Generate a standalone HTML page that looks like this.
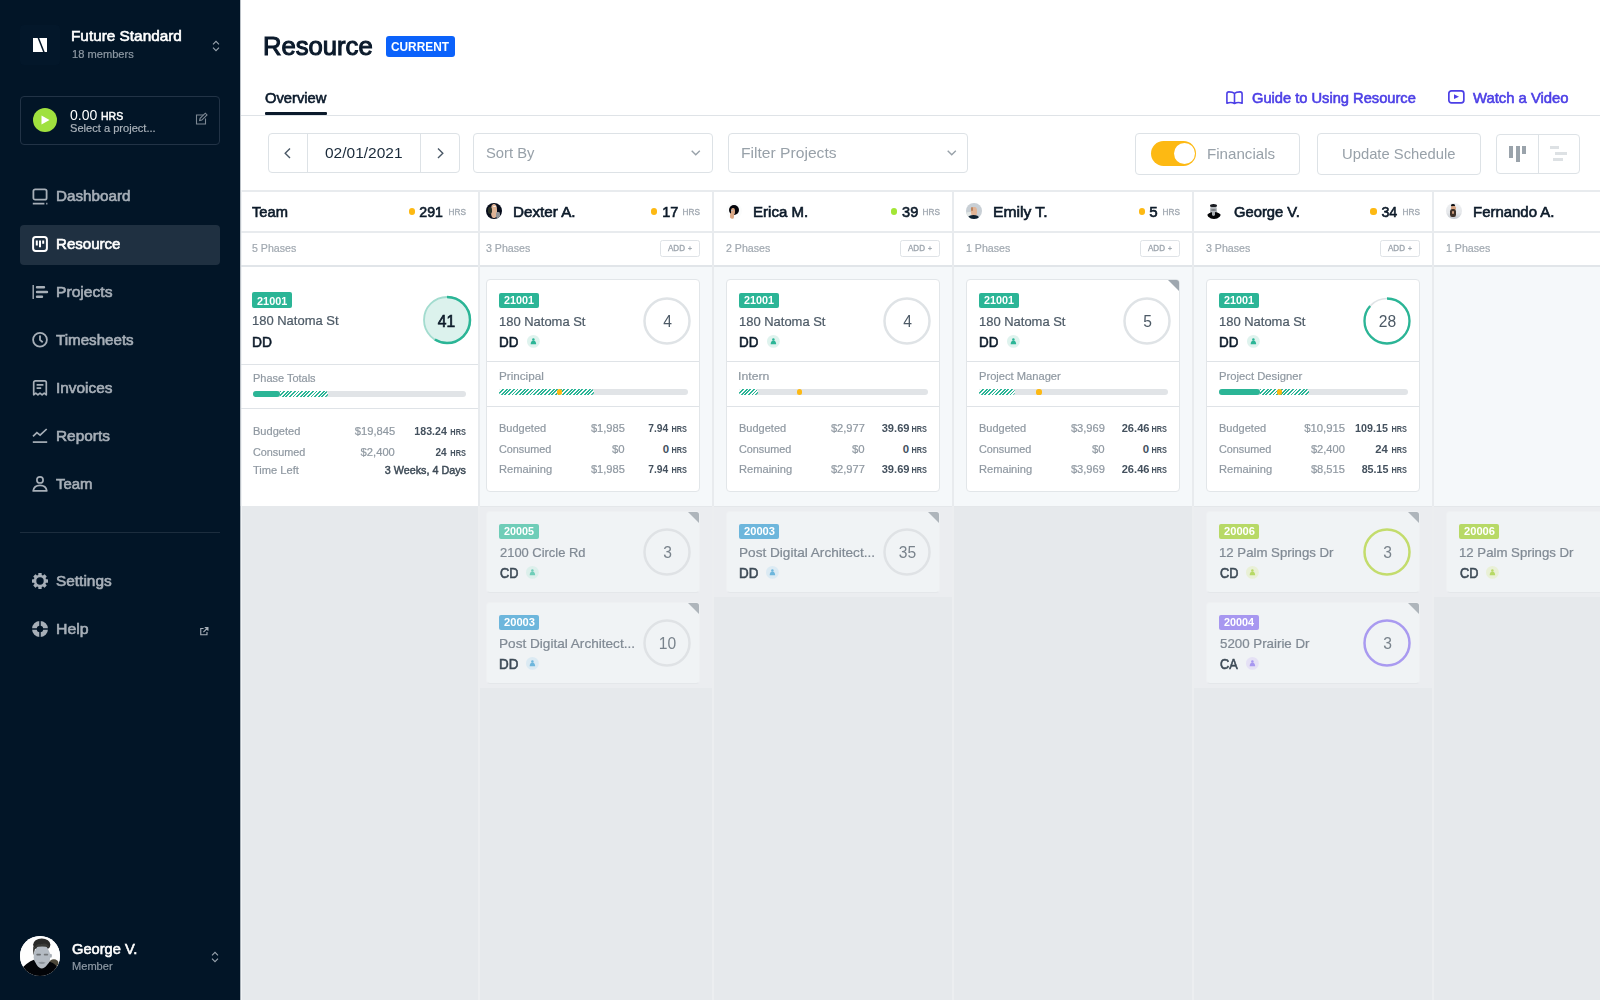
<!DOCTYPE html>
<html lang="en">
<head>
<meta charset="utf-8">
<title>Resource</title>
<style>
*{box-sizing:border-box;margin:0;padding:0}
html,body{width:1600px;height:1000px;overflow:hidden;background:#fff}
body{font-family:"Liberation Sans",sans-serif;position:relative;color:#0d1b2a}
.a{position:absolute}
svg.a{overflow:visible}
.t{position:absolute;white-space:nowrap;line-height:1;font-weight:400}
.t.b{font-weight:700}
#sb{position:absolute;left:0;top:0;width:240px;height:1000px;background:#021527;z-index:10;overflow:hidden}
#main{position:absolute;left:0;top:0;width:1600px;height:1000px;background:#fff;overflow:hidden}
.bx{position:absolute;border:1px solid #dde2e6;border-radius:4px;background:#fff}
.card{position:absolute;border:1px solid #e2e6e9;border-radius:4px;background:#fff}
.card.off{background:#f0f3f5;border-color:#eef0f2;border-bottom-color:#e4e7ea}
.tag{position:absolute;border-radius:2px}
.stripe{position:absolute;background-image:repeating-linear-gradient(135deg,#2bb596 0,#2bb596 1.35px,rgba(255,255,255,.9) 1.35px,rgba(255,255,255,.9) 2.55px)}

</style>
</head>
<body>
<div id="sb">
<div class="a" style="left:20px;top:25px;width:40px;height:40px;background:#03172a;border-radius:4px"></div>
<svg class="a" style="left:33px;top:38px" width="14" height="14" viewBox="0 0 14 14"><rect width="14" height="14" fill="#fff"/><path d="M5.200 -0.500L11.100 14.500" stroke="#021527" stroke-width="1.500"/></svg>
<div class="t m" style="left:71.28px;top:28.20px;font-size:15px;color:#fff;transform-origin:left center;transform:scaleX(1.0228);-webkit-text-stroke:0.61px;">Future Standard</div>
<div class="t" style="left:72.30px;top:49.00px;font-size:11.5px;color:#8e99a4;transform-origin:left center;transform:scaleX(0.9663);-webkit-text-stroke:0.21px;">18 members</div>
<svg class="a" style="left:211.5px;top:39.5px" width="8" height="12" viewBox="0 0 8 12"><path d="M1 4.300L4 1.300l3 3M1 7.700L4 10.700l3-3" fill="none" stroke="#9aa4ae" stroke-width="1.100"/></svg>
<div class="a" style="left:20px;top:96px;width:200px;height:49px;border:1px solid #223346;border-radius:4px"></div>
<div class="a" style="left:33px;top:108px;width:24px;height:24px;border-radius:50%;background:#a0e13e"></div>
<svg class="a" style="left:41px;top:115px" width="9" height="10" viewBox="0 0 9 10"><path d="M0.500 0.600v8.800L8.500 5z" fill="#fff"/></svg>
<div class="t" style="left:69.50px;top:107.00px;font-size:15px;color:#fff;transform-origin:left center;transform:scaleX(0.9358);">0.00</div>
<div class="t m" style="left:101.00px;top:111.00px;font-size:11.5px;color:#fff;transform-origin:left center;transform:scaleX(0.9143);-webkit-text-stroke:0.47px;">HRS</div>
<div class="t" style="left:69.50px;top:122.80px;font-size:11.5px;color:#aab2ba;transform-origin:left center;transform:scaleX(0.9644);-webkit-text-stroke:0.21px;">Select a project...</div>
<svg class="a" style="left:194px;top:112px" width="14" height="14" viewBox="0 0 14 14"><path d="M9.500 3H2.500v9h9V6.500" fill="none" stroke="#7d8893" stroke-width="1.100"/><path d="M5.600 8.600l.5-2.200L11.300 1.200l1.700 1.700-5.200 5.200z" fill="none" stroke="#7d8893" stroke-width="1.100"/></svg>
<div class="a" style="left:20px;top:225px;width:200px;height:39.5px;background:#1f3041;border-radius:4px"></div>
<svg class="a" style="left:32px;top:188.3px" width="16" height="16" viewBox="0 0 16 16"><rect x="1.400" y="1.300" width="13.200" height="10.400" rx="1.800" fill="none" stroke="#a7afb8" stroke-width="1.800"/><path d="M0.800 15.600h11.600M14.200 15.600h1.200" stroke="#a7afb8" stroke-width="1.700"/></svg>
<div class="t m" style="left:55.80px;top:188.06px;font-size:15.3px;color:#a7afb8;transform-origin:left center;transform:scaleX(0.9955);-webkit-text-stroke:0.63px;">Dashboard</div>
<svg class="a" style="left:32px;top:236.3px" width="16" height="16" viewBox="0 0 16 16"><rect x="1.100" y="1.100" width="13.800" height="13.800" rx="2.600" fill="none" stroke="#fff" stroke-width="2"/><path d="M4.800 4.400v5M8 4.400v6.800M11.200 4.400v3.400" stroke="#fff" stroke-width="2"/></svg>
<div class="t m" style="left:55.80px;top:236.06px;font-size:15.3px;color:#fff;transform-origin:left center;transform:scaleX(0.9850);-webkit-text-stroke:0.63px;">Resource</div>
<svg class="a" style="left:32px;top:284.3px" width="16" height="16" viewBox="0 0 16 16"><path d="M1.200 1v14" stroke="#a7afb8" stroke-width="1.400"/><path d="M5 3.200h7M5 8h10M5 12.800h5" stroke="#a7afb8" stroke-width="2.400" stroke-linecap="round"/></svg>
<div class="t m" style="left:55.80px;top:284.06px;font-size:15.3px;color:#a7afb8;transform-origin:left center;transform:scaleX(1.0218);-webkit-text-stroke:0.63px;">Projects</div>
<svg class="a" style="left:32px;top:332.3px" width="16" height="16" viewBox="0 0 16 16"><circle cx="8" cy="7.700" r="6.900" fill="none" stroke="#a7afb8" stroke-width="1.800"/><path d="M8 3.600v4.300l2.700 2.300" fill="none" stroke="#a7afb8" stroke-width="1.800"/></svg>
<div class="t m" style="left:55.80px;top:332.06px;font-size:15.3px;color:#a7afb8;transform-origin:left center;transform:scaleX(0.9893);-webkit-text-stroke:0.63px;">Timesheets</div>
<svg class="a" style="left:32px;top:380.3px" width="16" height="16" viewBox="0 0 16 16"><path d="M1.700 14.800V2.500c0-1 .7-1.700 1.700-1.700h9.200c1 0 1.700.7 1.700 1.700v12.300l-2.100-1.700-2.100 1.700L8 13.100l-2.100 1.700-2.100-1.700z" fill="none" stroke="#a7afb8" stroke-width="1.700" stroke-linejoin="round"/><path d="M4.600 4.900h6.800M4.600 8.100h4.600" stroke="#a7afb8" stroke-width="1.700"/></svg>
<div class="t m" style="left:55.80px;top:380.06px;font-size:15.3px;color:#a7afb8;transform-origin:left center;transform:scaleX(1.0060);-webkit-text-stroke:0.63px;">Invoices</div>
<svg class="a" style="left:32px;top:428.3px" width="16" height="16" viewBox="0 0 16 16"><path d="M1 8.400l3.900-3.700 3.200 2.500 6.600-6.200" fill="none" stroke="#a7afb8" stroke-width="1.700"/><path d="M0.800 14.100h14.400" stroke="#a7afb8" stroke-width="1.700"/></svg>
<div class="t m" style="left:55.80px;top:428.06px;font-size:15.3px;color:#a7afb8;transform-origin:left center;transform:scaleX(1.0054);-webkit-text-stroke:0.63px;">Reports</div>
<svg class="a" style="left:32px;top:476.3px" width="16" height="16" viewBox="0 0 16 16"><circle cx="8" cy="3.900" r="3.100" fill="none" stroke="#a7afb8" stroke-width="1.700"/><path d="M1.200 14.900c.5-3.700 3-5.500 6.800-5.500s6.300 1.800 6.800 5.500z" fill="none" stroke="#a7afb8" stroke-width="1.700" stroke-linejoin="round"/></svg>
<div class="t m" style="left:55.80px;top:476.06px;font-size:15.3px;color:#a7afb8;transform-origin:left center;transform:scaleX(0.9765);-webkit-text-stroke:0.63px;">Team</div>
<svg class="a" style="left:32px;top:573.3px" width="16" height="16" viewBox="0 0 16 16"><g fill="#a7afb8"><circle cx="8" cy="8" r="6.200"/><rect x="6.300" y="0" width="3.400" height="16" rx=".5"/><rect x="6.300" y="0" width="3.400" height="16" rx=".5" transform="rotate(45 8 8)"/><rect x="6.300" y="0" width="3.400" height="16" rx=".5" transform="rotate(90 8 8)"/><rect x="6.300" y="0" width="3.400" height="16" rx=".5" transform="rotate(135 8 8)"/></g><circle cx="8" cy="8" r="3.700" fill="#021527"/></svg>
<div class="t m" style="left:55.80px;top:573.06px;font-size:15.3px;color:#a7afb8;transform-origin:left center;transform:scaleX(1.0068);-webkit-text-stroke:0.63px;">Settings</div>
<svg class="a" style="left:32px;top:621.3px" width="16" height="16" viewBox="0 0 16 16"><circle cx="8" cy="8" r="5.600" fill="none" stroke="#a7afb8" stroke-width="4.800"/><path d="M8 0v16M0 8h16" stroke="#021527" stroke-width="1.500"/></svg>
<div class="t m" style="left:55.80px;top:621.06px;font-size:15.3px;color:#a7afb8;transform-origin:left center;transform:scaleX(1.0350);-webkit-text-stroke:0.63px;">Help</div>
<div class="a" style="left:20px;top:532px;width:200px;height:1px;background:#1c2d3e"></div>
<svg class="a" style="left:200px;top:626.500px" width="8.500" height="8.500" viewBox="0 0 9 9"><path d="M3.800 1.600H.8v6.600h6.600V5.200" fill="none" stroke="#a7afb8" stroke-width="1.200"/><path d="M3.600 5.400L8.200.8M5 .6h3.400V4" fill="none" stroke="#a7afb8" stroke-width="1.200"/></svg>
<div class="a" style="left:20px;top:935.500px;width:40.300px;height:40.300px;border-radius:50%;background:#fff;overflow:hidden"><svg class="a" style="left:0;top:0;filter:blur(.45px)" width="40.300" height="40.300" viewBox="0 0 40 40"><rect width="40" height="40" fill="#fefefe"/><ellipse cx="21.600" cy="8.600" rx="8.600" ry="6.200" fill="#2a2a29"/><path d="M13.200 10.500Q12.600 16 13.600 19L15 12z" fill="#2a2a29"/><ellipse cx="21.800" cy="21" rx="8.200" ry="12.300" fill="#b4bbc3"/><path d="M14.500 11.500Q17 6.500 21 8.500Q26 5.500 29.500 11.500Q22 9.500 14.500 11.500z" fill="#3a3a37"/><ellipse cx="30.600" cy="19.500" rx="1.100" ry="2" fill="#a7adb4"/><rect x="16.200" y="17.600" width="4.600" height="1.700" rx=".8" fill="#6b6f72"/><rect x="23.600" y="17.600" width="4.400" height="1.700" rx=".8" fill="#74787c"/><path d="M18 26.500Q21.500 24.800 25.500 26.500Q22 29 18 26.500z" fill="#8b929a"/><ellipse cx="33.600" cy="27" rx="4.700" ry="3.900" fill="#4c4739"/><path d="M0 34Q7 26 13.800 23.500L16.500 28.500Q21.500 36 27 28.500L29.500 25.500Q36 27.500 40 35V40H0z" fill="#020408"/></svg></div>
<div class="t m" style="left:72.40px;top:940.70px;font-size:15px;color:#fff;transform-origin:left center;transform:scaleX(0.9768);-webkit-text-stroke:0.61px;">George V.</div>
<div class="t" style="left:72.40px;top:961.00px;font-size:11.5px;color:#8e99a4;transform-origin:left center;transform:scaleX(0.9635);-webkit-text-stroke:0.21px;">Member</div>
<svg class="a" style="left:211px;top:950.5px" width="8" height="12" viewBox="0 0 8 12"><path d="M1 4.300L4 1.300l3 3M1 7.700L4 10.700l3-3" fill="none" stroke="#9aa4ae" stroke-width="1.100"/></svg>
</div>
<div id="main">
<div class="t m" style="left:263.47px;top:33.40px;font-size:26.5px;color:#0b1a2b;transform-origin:left center;transform:scaleX(0.9668);-webkit-text-stroke:1.09px;">Resource</div>
<div class="a" style="left:386px;top:36px;width:69px;height:21px;background:#0b62fb;border-radius:3px"></div>
<div class="t b" style="left:391.00px;top:40.40px;font-size:13px;color:#fff;transform-origin:left center;transform:scaleX(0.9118);">CURRENT</div>
<div class="t m" style="left:264.90px;top:91.20px;font-size:14.5px;color:#0b1a2b;transform-origin:left center;transform:scaleX(1.0171);-webkit-text-stroke:0.59px;">Overview</div>
<div class="a" style="left:265px;top:112px;width:62px;height:3px;background:#0b1a2b;border-radius:1px"></div>
<div class="a" style="left:241px;top:115px;width:1359px;height:1px;background:#dfe3e7"></div>
<svg class="a" style="left:1226.200px;top:90.600px" width="17" height="13.400" viewBox="0 0 17 13.400"><path d="M8.500 2.300C7 1 4.600.9 2.900.9Q.9.900.9 2.900V12.200C3.500 11.200 6.500 11.300 8.500 12.500C10.500 11.300 13.500 11.200 16.100 12.200V2.900Q16.100.9 14.100.9C12.400.9 10 1 8.500 2.300ZM8.500 2.300V12.500" fill="none" stroke="#4c3fe6" stroke-width="1.600" stroke-linejoin="round"/></svg>
<div class="t m" style="left:1252.20px;top:91.20px;font-size:14.5px;color:#4c3fe6;transform-origin:left center;transform:scaleX(1.0115);-webkit-text-stroke:0.59px;">Guide to Using Resource</div>
<svg class="a" style="left:1448.100px;top:90px" width="16.700" height="13.700" viewBox="0 0 16.700 13.700"><rect x=".85" y=".85" width="15" height="12" rx="2.600" fill="none" stroke="#4c3fe6" stroke-width="1.700"/><path d="M6 4.300v4.800l5-2.400z" fill="#4c3fe6"/></svg>
<div class="t m" style="left:1473.00px;top:91.20px;font-size:14.5px;color:#4c3fe6;transform-origin:left center;transform:scaleX(1.0221);-webkit-text-stroke:0.59px;">Watch a Video</div>
<div class="bx" style="left:268px;top:132.500px;width:192px;height:40px"></div>
<div class="a" style="left:307px;top:133px;width:1px;height:39px;background:#dde2e6"></div>
<div class="a" style="left:420px;top:133px;width:1px;height:39px;background:#dde2e6"></div>
<svg class="a" style="left:284px;top:147.500px" width="7" height="10.500" viewBox="0 0 7 10.500"><path d="M6 .6L1.200 5.250 6 9.900" fill="none" stroke="#4a5866" stroke-width="1.400"/></svg>
<svg class="a" style="left:436.500px;top:147.500px" width="7" height="10.500" viewBox="0 0 7 10.500"><path d="M1 .6L5.800 5.250 1 9.900" fill="none" stroke="#4a5866" stroke-width="1.400"/></svg>
<div class="t" style="left:324.50px;top:144.70px;font-size:15px;color:#1a2a3a;transform-origin:left center;transform:scaleX(1.0330);">02/01/2021</div>
<div class="bx" style="left:472.500px;top:132.500px;width:240px;height:40px"></div>
<div class="t" style="left:485.50px;top:145.30px;font-size:15px;color:#98a1a9;transform-origin:left center;transform:scaleX(0.9863);">Sort By</div>
<svg class="a" style="left:690.5px;top:149.500px" width="9.500" height="6" viewBox="0 0 9.500 6"><path d="M.7.800l4.050 4 4.050-4" fill="none" stroke="#98a1a9" stroke-width="1.400"/></svg>
<div class="bx" style="left:728px;top:132.500px;width:240px;height:40px"></div>
<div class="t" style="left:740.56px;top:145.30px;font-size:15px;color:#98a1a9;transform-origin:left center;transform:scaleX(1.0423);">Filter Projects</div>
<svg class="a" style="left:946.5px;top:149.500px" width="9.500" height="6" viewBox="0 0 9.500 6"><path d="M.7.800l4.050 4 4.050-4" fill="none" stroke="#98a1a9" stroke-width="1.400"/></svg>
<div class="bx" style="left:1135px;top:132.500px;width:165px;height:42px"></div>
<div class="a" style="left:1151px;top:141px;width:45px;height:25px;background:#fdb913;border-radius:13px"></div>
<div class="a" style="left:1173.5px;top:143px;width:21px;height:21px;background:#fff;border-radius:50%"></div>
<div class="t" style="left:1207.39px;top:146.00px;font-size:15px;color:#98a1a9;transform-origin:left center;transform:scaleX(1.0086);">Financials</div>
<div class="bx" style="left:1317px;top:132.500px;width:163.500px;height:42px"></div>
<div class="t" style="left:1341.51px;top:146.00px;font-size:15px;color:#98a1a9;transform-origin:left center;transform:scaleX(0.9864);">Update Schedule</div>
<div class="bx" style="left:1496px;top:133.500px;width:83.500px;height:40px"></div>
<div class="a" style="left:1537.5px;top:134px;width:1px;height:39px;background:#dde2e6"></div>
<div class="a" style="left:1509px;top:146px;width:4.2px;height:11.5px;background:#9aa3ab"></div>
<div class="a" style="left:1515.5px;top:146px;width:4.2px;height:15.5px;background:#9aa3ab"></div>
<div class="a" style="left:1522px;top:146px;width:4.2px;height:7.5px;background:#9aa3ab"></div>
<div class="a" style="left:1550px;top:146px;width:9px;height:3.3px;background:#dde1e4"></div>
<div class="a" style="left:1554.5px;top:152px;width:12.5px;height:3.3px;background:#dde1e4"></div>
<div class="a" style="left:1552.5px;top:158px;width:10.5px;height:3.3px;background:#dde1e4"></div>
<div class="a" style="left:241px;top:190px;width:1359px;height:2px;background:#e8ebee"></div>
<div class="a" style="left:480px;top:266px;width:1120px;height:240px;background:#f5f8fa"></div>
<div class="a" style="left:241px;top:506px;width:1359px;height:494px;background:#e6e9ec"></div>
<div class="a" style="left:474px;top:506px;width:238px;height:182px;background:#ebedf0"></div>
<div class="a" style="left:714px;top:506px;width:238px;height:91px;background:#ebedf0"></div>
<div class="a" style="left:1194px;top:506px;width:238px;height:182px;background:#ebedf0"></div>
<div class="a" style="left:1434px;top:506px;width:238px;height:91px;background:#ebedf0"></div>
<div class="a" style="left:241px;top:231px;width:1359px;height:2px;background:#e8ebee"></div>
<div class="a" style="left:241px;top:265.4px;width:1359px;height:1.6px;background:#e1e5e9"></div>
<div class="a" style="left:480px;top:505.5px;width:1120px;height:1px;background:#e4e7ea"></div>
<div class="a" style="left:485.8px;top:203.4px;width:15.800px;height:15.800px;border-radius:50%;overflow:hidden;filter:blur(.3px)"><div class="a" style="left:0px;top:0px;width:16px;height:16px;border-radius:0;background:#070d1c"></div><div class="a" style="left:4.8px;top:0.6px;width:6.6px;height:13.6px;border-radius:40%;background:#dfb496"></div><div class="a" style="left:2.5px;top:3.5px;width:3.5px;height:7px;border-radius:40%;background:#2c3328"></div><div class="a" style="left:10.2px;top:8.6px;width:4.4px;height:6px;border-radius:30%;background:#8f9296"></div><div class="a" style="left:7.5px;top:2.2px;width:3px;height:1.6px;border-radius:40%;background:#f1eee9"></div></div>
<div class="t m" style="left:512.92px;top:204.00px;font-size:15.5px;color:#0d1b2a;transform-origin:left center;transform:scaleX(0.9808);-webkit-text-stroke:0.64px;">Dexter A.</div>
<div class="t" style="left:485.70px;top:243.20px;font-size:11.2px;color:#a0a8b0;transform-origin:left center;transform:scaleX(0.9500);-webkit-text-stroke:0.20px;">3 Phases</div>
<div class="a" style="left:712px;top:192px;width:2px;height:314px;background:#e8ebee"></div>
<div class="a" style="left:712px;top:506px;width:2px;height:494px;background:#eceef0"></div>
<div class="t m" style="left:681.00px;top:207.70px;font-size:9px;color:#a0a8b0;transform-origin:right center;transform:scaleX(0.9158);-webkit-text-stroke:0.37px;">HRS</div>
<div class="t m" style="left:660.74px;top:204.00px;font-size:15.5px;color:#0d1b2a;transform-origin:right center;transform:scaleX(0.9347);-webkit-text-stroke:0.64px;">17</div>
<div class="a" style="left:650.9999999999999px;top:207.8px;width:6.2px;height:7.2px;background:#fdb913;border-radius:3px"></div>
<div class="a" style="left:660.4px;top:240.200px;width:39.500px;height:16.400px;border:1px solid #dfe3e7;border-radius:2.500px"></div>
<div class="t m" style="left:667.60px;top:244.20px;font-size:9px;color:#a0a8b0;transform-origin:left center;transform:scaleX(0.8922);-webkit-text-stroke:0.37px;">ADD</div>
<div class="t m" style="left:688.40px;top:245.00px;font-size:8px;color:#a0a8b0;transform-origin:left center;transform:scaleX(0.8400);-webkit-text-stroke:0.33px;">+</div>
<div class="a" style="left:725.8px;top:203.4px;width:15.800px;height:15.800px;border-radius:50%;overflow:hidden;filter:blur(.3px)"><div class="a" style="left:0px;top:0px;width:16px;height:16px;border-radius:0;background:#fbfcfc"></div><div class="a" style="left:3.1px;top:1.4px;width:10.4px;height:10.4px;border-radius:50%;background:#05060c"></div><div class="a" style="left:5.2px;top:4.6px;width:3.9px;height:7px;border-radius:45%;background:#d8a583"></div><div class="a" style="left:4.6px;top:9.5px;width:3.2px;height:6px;border-radius:40%;background:#dca986"></div><div class="a" style="left:5.2px;top:6.4px;width:2px;height:1.2px;border-radius:40%;background:#b9c0c6"></div></div>
<div class="t m" style="left:752.93px;top:204.00px;font-size:15.5px;color:#0d1b2a;transform-origin:left center;transform:scaleX(0.9701);-webkit-text-stroke:0.64px;">Erica M.</div>
<div class="t" style="left:725.70px;top:243.20px;font-size:11.2px;color:#a0a8b0;transform-origin:left center;transform:scaleX(0.9500);-webkit-text-stroke:0.20px;">2 Phases</div>
<div class="a" style="left:952px;top:192px;width:2px;height:314px;background:#e8ebee"></div>
<div class="a" style="left:952px;top:506px;width:2px;height:494px;background:#eceef0"></div>
<div class="t m" style="left:921.00px;top:207.70px;font-size:9px;color:#a0a8b0;transform-origin:right center;transform:scaleX(0.9158);-webkit-text-stroke:0.37px;">HRS</div>
<div class="t m" style="left:900.74px;top:204.00px;font-size:15.5px;color:#0d1b2a;transform-origin:right center;transform:scaleX(0.9386);-webkit-text-stroke:0.64px;">39</div>
<div class="a" style="left:890.9999999999999px;top:207.8px;width:6.2px;height:7.2px;background:#a3e635;border-radius:3px"></div>
<div class="a" style="left:900.4px;top:240.200px;width:39.500px;height:16.400px;border:1px solid #dfe3e7;border-radius:2.500px"></div>
<div class="t m" style="left:907.60px;top:244.20px;font-size:9px;color:#a0a8b0;transform-origin:left center;transform:scaleX(0.8922);-webkit-text-stroke:0.37px;">ADD</div>
<div class="t m" style="left:928.40px;top:245.00px;font-size:8px;color:#a0a8b0;transform-origin:left center;transform:scaleX(0.8400);-webkit-text-stroke:0.33px;">+</div>
<div class="a" style="left:965.8px;top:203.4px;width:15.800px;height:15.800px;border-radius:50%;overflow:hidden;filter:blur(.3px)"><div class="a" style="left:0px;top:0px;width:16px;height:16px;border-radius:0;background:#c8cfd5"></div><div class="a" style="left:0px;top:9px;width:7px;height:4px;border-radius:40%;background:#e3e8e6"></div><div class="a" style="left:5.3px;top:3.4px;width:5.6px;height:9.6px;border-radius:42%;background:#e1b496"></div><div class="a" style="left:5.2px;top:3.6px;width:2px;height:4px;border-radius:40%;background:#b9835f"></div><div class="a" style="left:2.2px;top:11.4px;width:11.4px;height:6px;border-radius:50% 50% 30% 30%;background:#0e2132"></div></div>
<div class="t m" style="left:992.89px;top:204.00px;font-size:15.5px;color:#0d1b2a;transform-origin:left center;transform:scaleX(1.0107);-webkit-text-stroke:0.64px;">Emily T.</div>
<div class="t" style="left:965.70px;top:243.20px;font-size:11.2px;color:#a0a8b0;transform-origin:left center;transform:scaleX(0.9500);-webkit-text-stroke:0.20px;">1 Phases</div>
<div class="a" style="left:1192px;top:192px;width:2px;height:314px;background:#e8ebee"></div>
<div class="a" style="left:1192px;top:506px;width:2px;height:494px;background:#eceef0"></div>
<div class="t m" style="left:1161.00px;top:207.70px;font-size:9px;color:#a0a8b0;transform-origin:right center;transform:scaleX(0.9158);-webkit-text-stroke:0.37px;">HRS</div>
<div class="t m" style="left:1149.38px;top:204.00px;font-size:15.5px;color:#0d1b2a;transform-origin:right center;transform:scaleX(0.9750);-webkit-text-stroke:0.64px;">5</div>
<div class="a" style="left:1138.8px;top:207.8px;width:6.2px;height:7.2px;background:#fdb913;border-radius:3px"></div>
<div class="a" style="left:1140.4px;top:240.200px;width:39.500px;height:16.400px;border:1px solid #dfe3e7;border-radius:2.500px"></div>
<div class="t m" style="left:1147.60px;top:244.20px;font-size:9px;color:#a0a8b0;transform-origin:left center;transform:scaleX(0.8922);-webkit-text-stroke:0.37px;">ADD</div>
<div class="t m" style="left:1168.40px;top:245.00px;font-size:8px;color:#a0a8b0;transform-origin:left center;transform:scaleX(0.8400);-webkit-text-stroke:0.33px;">+</div>
<div class="a" style="left:1205.8px;top:203.4px;width:15.800px;height:15.800px;border-radius:50%;overflow:hidden;filter:blur(.3px)"><div class="a" style="left:0px;top:0px;width:16px;height:16px;border-radius:0;background:#fff"></div><div class="a" style="left:4.4px;top:1.2px;width:7px;height:11.6px;border-radius:45%;background:#b3b7bb"></div><div class="a" style="left:4.7px;top:0.6px;width:6.6px;height:3.4px;border-radius:50% 50% 30% 30%;background:#1a1c22"></div><div class="a" style="left:5.3px;top:6px;width:5.2px;height:1.2px;border-radius:40%;background:#7d8186"></div><div class="a" style="left:0.9px;top:9px;width:14.4px;height:8.5px;border-radius:50% 50% 45% 45%;background:#040507"></div><div class="a" style="left:6.4px;top:8.6px;width:3.2px;height:3.6px;border-radius:0 0 50% 50%;background:#a9adb1"></div></div>
<div class="t m" style="left:1233.90px;top:204.00px;font-size:15.5px;color:#0d1b2a;transform-origin:left center;transform:scaleX(0.9526);-webkit-text-stroke:0.64px;">George V.</div>
<div class="t" style="left:1205.70px;top:243.20px;font-size:11.2px;color:#a0a8b0;transform-origin:left center;transform:scaleX(0.9500);-webkit-text-stroke:0.20px;">3 Phases</div>
<div class="a" style="left:1432px;top:192px;width:2px;height:314px;background:#e8ebee"></div>
<div class="a" style="left:1432px;top:506px;width:2px;height:494px;background:#eceef0"></div>
<div class="t m" style="left:1401.00px;top:207.70px;font-size:9px;color:#a0a8b0;transform-origin:right center;transform:scaleX(0.9158);-webkit-text-stroke:0.37px;">HRS</div>
<div class="t m" style="left:1379.81px;top:204.00px;font-size:15.5px;color:#0d1b2a;transform-origin:right center;transform:scaleX(0.9194);-webkit-text-stroke:0.64px;">34</div>
<div class="a" style="left:1370.3999999999999px;top:207.8px;width:6.2px;height:7.2px;background:#fdb913;border-radius:3px"></div>
<div class="a" style="left:1380.4px;top:240.200px;width:39.500px;height:16.400px;border:1px solid #dfe3e7;border-radius:2.500px"></div>
<div class="t m" style="left:1387.60px;top:244.20px;font-size:9px;color:#a0a8b0;transform-origin:left center;transform:scaleX(0.8922);-webkit-text-stroke:0.37px;">ADD</div>
<div class="t m" style="left:1408.40px;top:245.00px;font-size:8px;color:#a0a8b0;transform-origin:left center;transform:scaleX(0.8400);-webkit-text-stroke:0.33px;">+</div>
<div class="a" style="left:1445.8px;top:203.4px;width:15.800px;height:15.800px;border-radius:50%;overflow:hidden;filter:blur(.3px)"><div class="a" style="inset:0;background:linear-gradient(#eef0f2,#e6e8eb 60%,#c4c9cf)"></div><div class="a" style="left:5.3px;top:0.8px;width:4.2px;height:3px;border-radius:50%;background:#0b0d12"></div><div class="a" style="left:5.2px;top:2.8px;width:4.6px;height:3.8px;border-radius:40%;background:#d8a482"></div><div class="a" style="left:4.6px;top:5.8px;width:5.6px;height:7.4px;border-radius:35%;background:#3f3128"></div><div class="a" style="left:6.6px;top:7.4px;width:2px;height:3px;border-radius:40%;background:#c99b7c"></div></div>
<div class="t m" style="left:1472.94px;top:204.00px;font-size:15.5px;color:#0d1b2a;transform-origin:left center;transform:scaleX(0.9639);-webkit-text-stroke:0.64px;">Fernando A.</div>
<div class="t" style="left:1445.70px;top:243.20px;font-size:11.2px;color:#a0a8b0;transform-origin:left center;transform:scaleX(0.9500);-webkit-text-stroke:0.20px;">1 Phases</div>
<div class="a" style="left:1672px;top:192px;width:2px;height:314px;background:#e8ebee"></div>
<div class="a" style="left:1672px;top:506px;width:2px;height:494px;background:#eceef0"></div>
<div class="card" style="left:486px;top:279px;width:213.500px;height:213px"></div>
<div class="a" style="left:487px;top:361px;width:212px;height:1px;background:#dfe3e7"></div>
<div class="a" style="left:487px;top:406px;width:212px;height:1px;background:#dfe3e7"></div>
<div class="tag" style="left:499px;top:292.5px;width:40px;height:15.500px;background:#2bb596"></div>
<div class="t b" style="left:503.70px;top:295.20px;font-size:11.5px;color:#fff;transform-origin:left center;transform:scaleX(0.9391);">21001</div>
<div class="t" style="left:499.04px;top:314.80px;font-size:13.5px;color:#4d5a66;transform-origin:left center;transform:scaleX(0.9597);-webkit-text-stroke:0.24px;">180 Natoma St</div>
<div class="t m" style="left:498.88px;top:334.80px;font-size:14.5px;color:#0d1b2a;transform-origin:left center;transform:scaleX(0.9244);-webkit-text-stroke:0.59px;">DD</div>
<svg class="a" style="left:526.65px;top:334.6px" width="12.800" height="12.800" viewBox="-6.400 -6.400 12.800 12.800"><circle cx="0" cy="0" r="6.400" fill="#dff3ee"/><circle cx="0" cy="-2" r="1.250" fill="#2bb596"/><path d="M-2.750 2.900c0-2.600 1.100-3.900 2.750-3.900s2.750 1.300 2.750 3.900z" fill="#2bb596"/></svg>
<svg class="a" style="left:641.4px;top:294.8px" width="52" height="52" viewBox="0 0 52 52"><circle cx="26" cy="26" r="22.5" fill="none" stroke="#dfe3e6" stroke-width="2.5"/></svg>
<div class="t" style="left:662.90px;top:312.70px;font-size:17px;color:#4d5a66;transform-origin:4.50px center;transform:scaleX(0.9200);">4</div>
<div class="t" style="left:499.20px;top:371.10px;font-size:11.2px;color:#8f98a1;transform-origin:left center;transform:scaleX(1.0444);-webkit-text-stroke:0.20px;">Principal</div>
<div class="a" style="left:499.2px;top:389px;width:188.8px;height:5.7px;background:#e1e4e7;border-radius:3px"></div>
<div class="stripe" style="left:499.2px;top:389px;width:94.4px;height:5.7px;border-radius:3px 3px 3px 3px"></div>
<div class="a" style="left:556.6px;top:388.75px;width:5.2px;height:6.2px;background:#fdb913;border-radius:2.600px"></div>
<div class="t" style="left:499.20px;top:423.40px;font-size:11.4px;color:#8f98a1;transform-origin:left center;transform:scaleX(0.9662);-webkit-text-stroke:0.21px;">Budgeted</div>
<div class="t" style="left:589.89px;top:423.40px;font-size:11.4px;color:#8f98a1;transform-origin:right center;transform:scaleX(0.9738);-webkit-text-stroke:0.21px;">$1,985</div>
<div class="t b" style="left:668.97px;top:425.40px;font-size:8.5px;color:#44515e;transform-origin:right center;transform:scaleX(0.8645);">HRS</div>
<div class="t b" style="left:646.03px;top:423.40px;font-size:11.4px;color:#44515e;transform-origin:right center;transform:scaleX(0.8978);">7.94</div>
<div class="t" style="left:499.20px;top:444.30px;font-size:11.4px;color:#8f98a1;transform-origin:left center;transform:scaleX(0.9498);-webkit-text-stroke:0.21px;">Consumed</div>
<div class="t" style="left:612.06px;top:444.30px;font-size:11.4px;color:#8f98a1;transform-origin:right center;transform:scaleX(0.9972);-webkit-text-stroke:0.21px;">$0</div>
<div class="t b" style="left:668.97px;top:446.30px;font-size:8.5px;color:#44515e;transform-origin:right center;transform:scaleX(0.8645);">HRS</div>
<div class="t b" style="left:662.80px;top:444.30px;font-size:11.4px;color:#44515e;transform-origin:right center;transform:scaleX(1.0000);">0</div>
<div class="t" style="left:499.20px;top:464.40px;font-size:11.4px;color:#8f98a1;transform-origin:left center;transform:scaleX(0.9757);-webkit-text-stroke:0.21px;">Remaining</div>
<div class="t" style="left:589.89px;top:464.40px;font-size:11.4px;color:#8f98a1;transform-origin:right center;transform:scaleX(0.9738);-webkit-text-stroke:0.21px;">$1,985</div>
<div class="t b" style="left:668.97px;top:466.40px;font-size:8.5px;color:#44515e;transform-origin:right center;transform:scaleX(0.8645);">HRS</div>
<div class="t b" style="left:646.03px;top:464.40px;font-size:11.4px;color:#44515e;transform-origin:right center;transform:scaleX(0.8978);">7.94</div>
<div class="card" style="left:726px;top:279px;width:213.500px;height:213px"></div>
<div class="a" style="left:727px;top:361px;width:212px;height:1px;background:#dfe3e7"></div>
<div class="a" style="left:727px;top:406px;width:212px;height:1px;background:#dfe3e7"></div>
<div class="tag" style="left:739px;top:292.5px;width:40px;height:15.500px;background:#2bb596"></div>
<div class="t b" style="left:743.70px;top:295.20px;font-size:11.5px;color:#fff;transform-origin:left center;transform:scaleX(0.9391);">21001</div>
<div class="t" style="left:739.04px;top:314.80px;font-size:13.5px;color:#4d5a66;transform-origin:left center;transform:scaleX(0.9597);-webkit-text-stroke:0.24px;">180 Natoma St</div>
<div class="t m" style="left:738.88px;top:334.80px;font-size:14.5px;color:#0d1b2a;transform-origin:left center;transform:scaleX(0.9244);-webkit-text-stroke:0.59px;">DD</div>
<svg class="a" style="left:766.65px;top:334.6px" width="12.800" height="12.800" viewBox="-6.400 -6.400 12.800 12.800"><circle cx="0" cy="0" r="6.400" fill="#dff3ee"/><circle cx="0" cy="-2" r="1.250" fill="#2bb596"/><path d="M-2.750 2.900c0-2.600 1.100-3.900 2.750-3.900s2.750 1.300 2.750 3.900z" fill="#2bb596"/></svg>
<svg class="a" style="left:881.4px;top:294.8px" width="52" height="52" viewBox="0 0 52 52"><circle cx="26" cy="26" r="22.5" fill="none" stroke="#dfe3e6" stroke-width="2.5"/></svg>
<div class="t" style="left:902.90px;top:312.70px;font-size:17px;color:#4d5a66;transform-origin:4.50px center;transform:scaleX(0.9200);">4</div>
<div class="t" style="left:738.10px;top:371.10px;font-size:11.2px;color:#8f98a1;transform-origin:left center;transform:scaleX(1.0955);-webkit-text-stroke:0.20px;">Intern</div>
<div class="a" style="left:739.2px;top:389px;width:188.8px;height:5.7px;background:#e1e4e7;border-radius:3px"></div>
<div class="stripe" style="left:739.2px;top:389px;width:19px;height:5.7px;border-radius:3px 3px 3px 3px"></div>
<div class="a" style="left:796.5px;top:388.75px;width:5.2px;height:6.2px;background:#fdb913;border-radius:2.600px"></div>
<div class="t" style="left:739.20px;top:423.40px;font-size:11.4px;color:#8f98a1;transform-origin:left center;transform:scaleX(0.9662);-webkit-text-stroke:0.21px;">Budgeted</div>
<div class="t" style="left:829.89px;top:423.40px;font-size:11.4px;color:#8f98a1;transform-origin:right center;transform:scaleX(0.9738);-webkit-text-stroke:0.21px;">$2,977</div>
<div class="t b" style="left:908.97px;top:425.40px;font-size:8.5px;color:#44515e;transform-origin:right center;transform:scaleX(0.8645);">HRS</div>
<div class="t b" style="left:880.62px;top:423.40px;font-size:11.4px;color:#44515e;transform-origin:right center;transform:scaleX(0.9762);">39.69</div>
<div class="t" style="left:739.20px;top:444.30px;font-size:11.4px;color:#8f98a1;transform-origin:left center;transform:scaleX(0.9498);-webkit-text-stroke:0.21px;">Consumed</div>
<div class="t" style="left:852.06px;top:444.30px;font-size:11.4px;color:#8f98a1;transform-origin:right center;transform:scaleX(0.9972);-webkit-text-stroke:0.21px;">$0</div>
<div class="t b" style="left:908.97px;top:446.30px;font-size:8.5px;color:#44515e;transform-origin:right center;transform:scaleX(0.8645);">HRS</div>
<div class="t b" style="left:902.80px;top:444.30px;font-size:11.4px;color:#44515e;transform-origin:right center;transform:scaleX(1.0000);">0</div>
<div class="t" style="left:739.20px;top:464.40px;font-size:11.4px;color:#8f98a1;transform-origin:left center;transform:scaleX(0.9757);-webkit-text-stroke:0.21px;">Remaining</div>
<div class="t" style="left:829.89px;top:464.40px;font-size:11.4px;color:#8f98a1;transform-origin:right center;transform:scaleX(0.9738);-webkit-text-stroke:0.21px;">$2,977</div>
<div class="t b" style="left:908.97px;top:466.40px;font-size:8.5px;color:#44515e;transform-origin:right center;transform:scaleX(0.8645);">HRS</div>
<div class="t b" style="left:880.62px;top:464.40px;font-size:11.4px;color:#44515e;transform-origin:right center;transform:scaleX(0.9762);">39.69</div>
<div class="card" style="left:966px;top:279px;width:213.500px;height:213px"></div>
<div class="a" style="left:967px;top:361px;width:212px;height:1px;background:#dfe3e7"></div>
<div class="a" style="left:967px;top:406px;width:212px;height:1px;background:#dfe3e7"></div>
<div class="tag" style="left:979px;top:292.5px;width:40px;height:15.500px;background:#2bb596"></div>
<div class="t b" style="left:983.70px;top:295.20px;font-size:11.5px;color:#fff;transform-origin:left center;transform:scaleX(0.9391);">21001</div>
<div class="t" style="left:979.04px;top:314.80px;font-size:13.5px;color:#4d5a66;transform-origin:left center;transform:scaleX(0.9597);-webkit-text-stroke:0.24px;">180 Natoma St</div>
<div class="t m" style="left:978.88px;top:334.80px;font-size:14.5px;color:#0d1b2a;transform-origin:left center;transform:scaleX(0.9244);-webkit-text-stroke:0.59px;">DD</div>
<svg class="a" style="left:1006.65px;top:334.6px" width="12.800" height="12.800" viewBox="-6.400 -6.400 12.800 12.800"><circle cx="0" cy="0" r="6.400" fill="#dff3ee"/><circle cx="0" cy="-2" r="1.250" fill="#2bb596"/><path d="M-2.750 2.900c0-2.600 1.100-3.900 2.750-3.900s2.750 1.300 2.750 3.900z" fill="#2bb596"/></svg>
<svg class="a" style="left:1121.4px;top:294.8px" width="52" height="52" viewBox="0 0 52 52"><circle cx="26" cy="26" r="22.5" fill="none" stroke="#dfe3e6" stroke-width="2.5"/></svg>
<div class="t" style="left:1142.90px;top:312.70px;font-size:17px;color:#4d5a66;transform-origin:4.50px center;transform:scaleX(0.9200);">5</div>
<svg class="a" style="left:1167.8px;top:279.5px" width="11" height="11" viewBox="0 0 11 11"><path d="M0 0h8.500Q11 0 11 2.500V11z" fill="#9ea7af"/></svg>
<div class="t" style="left:979.20px;top:371.10px;font-size:11.2px;color:#8f98a1;transform-origin:left center;transform:scaleX(0.9957);-webkit-text-stroke:0.20px;">Project Manager</div>
<div class="a" style="left:979.2px;top:389px;width:188.8px;height:5.7px;background:#e1e4e7;border-radius:3px"></div>
<div class="stripe" style="left:979.2px;top:389px;width:35.4px;height:5.7px;border-radius:3px 3px 3px 3px"></div>
<div class="a" style="left:1036.4px;top:388.75px;width:5.2px;height:6.2px;background:#fdb913;border-radius:2.600px"></div>
<div class="t" style="left:979.20px;top:423.40px;font-size:11.4px;color:#8f98a1;transform-origin:left center;transform:scaleX(0.9662);-webkit-text-stroke:0.21px;">Budgeted</div>
<div class="t" style="left:1069.89px;top:423.40px;font-size:11.4px;color:#8f98a1;transform-origin:right center;transform:scaleX(0.9738);-webkit-text-stroke:0.21px;">$3,969</div>
<div class="t b" style="left:1148.97px;top:425.40px;font-size:8.5px;color:#44515e;transform-origin:right center;transform:scaleX(0.8645);">HRS</div>
<div class="t b" style="left:1120.62px;top:423.40px;font-size:11.4px;color:#44515e;transform-origin:right center;transform:scaleX(0.9762);">26.46</div>
<div class="t" style="left:979.20px;top:444.30px;font-size:11.4px;color:#8f98a1;transform-origin:left center;transform:scaleX(0.9498);-webkit-text-stroke:0.21px;">Consumed</div>
<div class="t" style="left:1092.06px;top:444.30px;font-size:11.4px;color:#8f98a1;transform-origin:right center;transform:scaleX(0.9972);-webkit-text-stroke:0.21px;">$0</div>
<div class="t b" style="left:1148.97px;top:446.30px;font-size:8.5px;color:#44515e;transform-origin:right center;transform:scaleX(0.8645);">HRS</div>
<div class="t b" style="left:1142.80px;top:444.30px;font-size:11.4px;color:#44515e;transform-origin:right center;transform:scaleX(1.0000);">0</div>
<div class="t" style="left:979.20px;top:464.40px;font-size:11.4px;color:#8f98a1;transform-origin:left center;transform:scaleX(0.9757);-webkit-text-stroke:0.21px;">Remaining</div>
<div class="t" style="left:1069.89px;top:464.40px;font-size:11.4px;color:#8f98a1;transform-origin:right center;transform:scaleX(0.9738);-webkit-text-stroke:0.21px;">$3,969</div>
<div class="t b" style="left:1148.97px;top:466.40px;font-size:8.5px;color:#44515e;transform-origin:right center;transform:scaleX(0.8645);">HRS</div>
<div class="t b" style="left:1120.62px;top:464.40px;font-size:11.4px;color:#44515e;transform-origin:right center;transform:scaleX(0.9762);">26.46</div>
<div class="card" style="left:1206px;top:279px;width:213.500px;height:213px"></div>
<div class="a" style="left:1207px;top:361px;width:212px;height:1px;background:#dfe3e7"></div>
<div class="a" style="left:1207px;top:406px;width:212px;height:1px;background:#dfe3e7"></div>
<div class="tag" style="left:1219px;top:292.5px;width:40px;height:15.500px;background:#2bb596"></div>
<div class="t b" style="left:1223.70px;top:295.20px;font-size:11.5px;color:#fff;transform-origin:left center;transform:scaleX(0.9391);">21001</div>
<div class="t" style="left:1219.04px;top:314.80px;font-size:13.5px;color:#4d5a66;transform-origin:left center;transform:scaleX(0.9597);-webkit-text-stroke:0.24px;">180 Natoma St</div>
<div class="t m" style="left:1218.88px;top:334.80px;font-size:14.5px;color:#0d1b2a;transform-origin:left center;transform:scaleX(0.9244);-webkit-text-stroke:0.59px;">DD</div>
<svg class="a" style="left:1246.6499999999999px;top:334.6px" width="12.800" height="12.800" viewBox="-6.400 -6.400 12.800 12.800"><circle cx="0" cy="0" r="6.400" fill="#dff3ee"/><circle cx="0" cy="-2" r="1.250" fill="#2bb596"/><path d="M-2.750 2.900c0-2.600 1.100-3.900 2.750-3.900s2.750 1.300 2.750 3.900z" fill="#2bb596"/></svg>
<svg class="a" style="left:1361.4px;top:294.8px" width="52" height="52" viewBox="0 0 52 52"><circle cx="26" cy="26" r="22.5" fill="none" stroke="#dfe3e6" stroke-width="1.7"/><circle cx="26" cy="26" r="22.5" fill="none" stroke="#2bb596" stroke-width="2.3" stroke-dasharray="121.58 141.37" transform="rotate(-90 26 26)"/></svg>
<div class="t" style="left:1378.17px;top:312.70px;font-size:17px;color:#4d5a66;transform-origin:9.23px center;transform:scaleX(0.9200);">28</div>
<div class="t" style="left:1219.20px;top:371.10px;font-size:11.2px;color:#8f98a1;transform-origin:left center;transform:scaleX(1.0063);-webkit-text-stroke:0.20px;">Project Designer</div>
<div class="a" style="left:1219.2px;top:389px;width:188.8px;height:5.7px;background:#e1e4e7;border-radius:3px"></div>
<div class="stripe" style="left:1259.6000000000001px;top:389px;width:49.199999999999996px;height:5.7px;border-radius:0px 3px 3px 0px"></div>
<div class="a" style="left:1219.2px;top:389px;width:40.4px;height:5.7px;background:#2bb596;border-radius:3px"></div>
<div class="a" style="left:1276.7px;top:388.75px;width:5.2px;height:6.2px;background:#fdb913;border-radius:2.600px"></div>
<div class="t" style="left:1219.20px;top:423.40px;font-size:11.4px;color:#8f98a1;transform-origin:left center;transform:scaleX(0.9662);-webkit-text-stroke:0.21px;">Budgeted</div>
<div class="t" style="left:1303.56px;top:423.40px;font-size:11.4px;color:#8f98a1;transform-origin:right center;transform:scaleX(0.9966);-webkit-text-stroke:0.21px;">$10,915</div>
<div class="t b" style="left:1388.97px;top:425.40px;font-size:8.5px;color:#44515e;transform-origin:right center;transform:scaleX(0.8645);">HRS</div>
<div class="t b" style="left:1353.33px;top:423.40px;font-size:11.4px;color:#44515e;transform-origin:right center;transform:scaleX(0.9407);">109.15</div>
<div class="t" style="left:1219.20px;top:444.30px;font-size:11.4px;color:#8f98a1;transform-origin:left center;transform:scaleX(0.9498);-webkit-text-stroke:0.21px;">Consumed</div>
<div class="t" style="left:1309.89px;top:444.30px;font-size:11.4px;color:#8f98a1;transform-origin:right center;transform:scaleX(0.9738);-webkit-text-stroke:0.21px;">$2,400</div>
<div class="t b" style="left:1388.97px;top:446.30px;font-size:8.5px;color:#44515e;transform-origin:right center;transform:scaleX(0.8645);">HRS</div>
<div class="t b" style="left:1375.47px;top:444.30px;font-size:11.4px;color:#44515e;transform-origin:right center;transform:scaleX(0.9899);">24</div>
<div class="t" style="left:1219.20px;top:464.40px;font-size:11.4px;color:#8f98a1;transform-origin:left center;transform:scaleX(0.9757);-webkit-text-stroke:0.21px;">Remaining</div>
<div class="t" style="left:1309.89px;top:464.40px;font-size:11.4px;color:#8f98a1;transform-origin:right center;transform:scaleX(0.9738);-webkit-text-stroke:0.21px;">$8,515</div>
<div class="t b" style="left:1388.97px;top:466.40px;font-size:8.5px;color:#44515e;transform-origin:right center;transform:scaleX(0.8645);">HRS</div>
<div class="t b" style="left:1359.67px;top:464.40px;font-size:11.4px;color:#44515e;transform-origin:right center;transform:scaleX(0.9428);">85.15</div>
<div class="card off" style="left:486px;top:511px;width:213.500px;height:82px"></div>
<div class="tag" style="left:499px;top:523.5px;width:40px;height:15.500px;background:#6fcdb8"></div>
<div class="t b" style="left:503.70px;top:526.20px;font-size:11.5px;color:#fff;transform-origin:left center;transform:scaleX(0.9391);">20005</div>
<div class="t" style="left:499.60px;top:545.80px;font-size:13.5px;color:#808a94;transform-origin:left center;transform:scaleX(0.9574);-webkit-text-stroke:0.24px;">2100 Circle Rd</div>
<div class="t m" style="left:499.80px;top:565.80px;font-size:14.5px;color:#3d4a56;transform-origin:left center;transform:scaleX(0.8793);-webkit-text-stroke:0.59px;">CD</div>
<svg class="a" style="left:526.0px;top:565.6px" width="12.800" height="12.800" viewBox="-6.400 -6.400 12.800 12.800"><circle cx="0" cy="0" r="6.400" fill="#dcefeb"/><circle cx="0" cy="-2" r="1.250" fill="#6fcdb8"/><path d="M-2.750 2.900c0-2.600 1.100-3.900 2.750-3.900s2.750 1.300 2.750 3.900z" fill="#6fcdb8"/></svg>
<svg class="a" style="left:641.4px;top:525.8px" width="52" height="52" viewBox="0 0 52 52"><circle cx="26" cy="26" r="22.5" fill="none" stroke="#dfe2e5" stroke-width="2.5"/></svg>
<div class="t" style="left:662.90px;top:543.70px;font-size:17px;color:#79838c;transform-origin:4.50px center;transform:scaleX(0.9200);">3</div>
<svg class="a" style="left:687.8px;top:511.5px" width="11" height="11" viewBox="0 0 11 11"><path d="M0 0h8.500Q11 0 11 2.500V11z" fill="#aeb5bb"/></svg>
<div class="card off" style="left:486px;top:602px;width:213.500px;height:82px"></div>
<div class="tag" style="left:499px;top:614.5px;width:40px;height:15.500px;background:#6db6dc"></div>
<div class="t b" style="left:503.70px;top:617.20px;font-size:11.5px;color:#fff;transform-origin:left center;transform:scaleX(0.9689);">20003</div>
<div class="t" style="left:498.59px;top:636.80px;font-size:13.5px;color:#808a94;transform-origin:left center;transform:scaleX(1.0071);-webkit-text-stroke:0.24px;">Post Digital Architect...</div>
<div class="t m" style="left:498.88px;top:656.80px;font-size:14.5px;color:#3d4a56;transform-origin:left center;transform:scaleX(0.9244);-webkit-text-stroke:0.59px;">DD</div>
<svg class="a" style="left:526.0px;top:656.6px" width="12.800" height="12.800" viewBox="-6.400 -6.400 12.800 12.800"><circle cx="0" cy="0" r="6.400" fill="#dbeaf3"/><circle cx="0" cy="-2" r="1.250" fill="#6db6dc"/><path d="M-2.750 2.900c0-2.600 1.100-3.900 2.750-3.900s2.750 1.300 2.750 3.900z" fill="#6db6dc"/></svg>
<svg class="a" style="left:641.4px;top:616.8px" width="52" height="52" viewBox="0 0 52 52"><circle cx="26" cy="26" r="22.5" fill="none" stroke="#dfe2e5" stroke-width="2.5"/></svg>
<div class="t" style="left:657.67px;top:634.70px;font-size:17px;color:#79838c;transform-origin:9.73px center;transform:scaleX(0.9200);">10</div>
<svg class="a" style="left:687.8px;top:602.5px" width="11" height="11" viewBox="0 0 11 11"><path d="M0 0h8.500Q11 0 11 2.500V11z" fill="#aeb5bb"/></svg>
<div class="card off" style="left:726px;top:511px;width:213.500px;height:82px"></div>
<div class="tag" style="left:739px;top:523.5px;width:40px;height:15.500px;background:#6db6dc"></div>
<div class="t b" style="left:743.70px;top:526.20px;font-size:11.5px;color:#fff;transform-origin:left center;transform:scaleX(0.9689);">20003</div>
<div class="t" style="left:738.59px;top:545.80px;font-size:13.5px;color:#808a94;transform-origin:left center;transform:scaleX(1.0071);-webkit-text-stroke:0.24px;">Post Digital Architect...</div>
<div class="t m" style="left:738.88px;top:565.80px;font-size:14.5px;color:#3d4a56;transform-origin:left center;transform:scaleX(0.9244);-webkit-text-stroke:0.59px;">DD</div>
<svg class="a" style="left:766.0px;top:565.6px" width="12.800" height="12.800" viewBox="-6.400 -6.400 12.800 12.800"><circle cx="0" cy="0" r="6.400" fill="#dbeaf3"/><circle cx="0" cy="-2" r="1.250" fill="#6db6dc"/><path d="M-2.750 2.900c0-2.600 1.100-3.900 2.750-3.900s2.750 1.300 2.750 3.900z" fill="#6db6dc"/></svg>
<svg class="a" style="left:881.4px;top:525.8px" width="52" height="52" viewBox="0 0 52 52"><circle cx="26" cy="26" r="22.5" fill="none" stroke="#dfe2e5" stroke-width="2.5"/></svg>
<div class="t" style="left:898.17px;top:543.70px;font-size:17px;color:#79838c;transform-origin:9.23px center;transform:scaleX(0.9200);">35</div>
<svg class="a" style="left:927.8px;top:511.5px" width="11" height="11" viewBox="0 0 11 11"><path d="M0 0h8.500Q11 0 11 2.500V11z" fill="#aeb5bb"/></svg>
<div class="card off" style="left:1206px;top:511px;width:213.500px;height:82px"></div>
<div class="tag" style="left:1219px;top:523.5px;width:40px;height:15.500px;background:#b7d966"></div>
<div class="t b" style="left:1223.70px;top:526.20px;font-size:11.5px;color:#fff;transform-origin:left center;transform:scaleX(0.9689);">20006</div>
<div class="t" style="left:1218.62px;top:545.80px;font-size:13.5px;color:#808a94;transform-origin:left center;transform:scaleX(0.9781);-webkit-text-stroke:0.24px;">12 Palm Springs Dr</div>
<div class="t m" style="left:1219.80px;top:565.80px;font-size:14.5px;color:#3d4a56;transform-origin:left center;transform:scaleX(0.8793);-webkit-text-stroke:0.59px;">CD</div>
<svg class="a" style="left:1246.0px;top:565.6px" width="12.800" height="12.800" viewBox="-6.400 -6.400 12.800 12.800"><circle cx="0" cy="0" r="6.400" fill="#e9f0d6"/><circle cx="0" cy="-2" r="1.250" fill="#b7d966"/><path d="M-2.750 2.900c0-2.600 1.100-3.900 2.750-3.900s2.750 1.300 2.750 3.900z" fill="#b7d966"/></svg>
<svg class="a" style="left:1361.4px;top:525.8px" width="52" height="52" viewBox="0 0 52 52"><circle cx="26" cy="26" r="22.5" fill="none" stroke="#c3dc6c" stroke-width="2.5"/></svg>
<div class="t" style="left:1382.90px;top:543.70px;font-size:17px;color:#79838c;transform-origin:4.50px center;transform:scaleX(0.9200);">3</div>
<svg class="a" style="left:1407.8px;top:511.5px" width="11" height="11" viewBox="0 0 11 11"><path d="M0 0h8.500Q11 0 11 2.500V11z" fill="#aeb5bb"/></svg>
<div class="card off" style="left:1206px;top:602px;width:213.500px;height:82px"></div>
<div class="tag" style="left:1219px;top:614.5px;width:40px;height:15.500px;background:#a797f0"></div>
<div class="t b" style="left:1223.70px;top:617.20px;font-size:11.5px;color:#fff;transform-origin:left center;transform:scaleX(0.9391);">20004</div>
<div class="t" style="left:1219.60px;top:636.80px;font-size:13.5px;color:#808a94;transform-origin:left center;transform:scaleX(0.9858);-webkit-text-stroke:0.24px;">5200 Prairie Dr</div>
<div class="t m" style="left:1219.80px;top:656.80px;font-size:14.5px;color:#3d4a56;transform-origin:left center;transform:scaleX(0.8793);-webkit-text-stroke:0.59px;">CA</div>
<svg class="a" style="left:1246.0px;top:656.6px" width="12.800" height="12.800" viewBox="-6.400 -6.400 12.800 12.800"><circle cx="0" cy="0" r="6.400" fill="#e5e1f5"/><circle cx="0" cy="-2" r="1.250" fill="#a797f0"/><path d="M-2.750 2.900c0-2.600 1.100-3.900 2.750-3.900s2.750 1.300 2.750 3.900z" fill="#a797f0"/></svg>
<svg class="a" style="left:1361.4px;top:616.8px" width="52" height="52" viewBox="0 0 52 52"><circle cx="26" cy="26" r="22.5" fill="none" stroke="#a99af0" stroke-width="2.5"/></svg>
<div class="t" style="left:1382.90px;top:634.70px;font-size:17px;color:#79838c;transform-origin:4.50px center;transform:scaleX(0.9200);">3</div>
<svg class="a" style="left:1407.8px;top:602.5px" width="11" height="11" viewBox="0 0 11 11"><path d="M0 0h8.500Q11 0 11 2.500V11z" fill="#aeb5bb"/></svg>
<div class="card off" style="left:1446px;top:511px;width:213.500px;height:82px"></div>
<div class="tag" style="left:1459px;top:523.5px;width:40px;height:15.500px;background:#b7d966"></div>
<div class="t b" style="left:1463.70px;top:526.20px;font-size:11.5px;color:#fff;transform-origin:left center;transform:scaleX(0.9689);">20006</div>
<div class="t" style="left:1458.62px;top:545.80px;font-size:13.5px;color:#808a94;transform-origin:left center;transform:scaleX(0.9781);-webkit-text-stroke:0.24px;">12 Palm Springs Dr</div>
<div class="t m" style="left:1459.80px;top:565.80px;font-size:14.5px;color:#3d4a56;transform-origin:left center;transform:scaleX(0.8793);-webkit-text-stroke:0.59px;">CD</div>
<svg class="a" style="left:1486.0px;top:565.6px" width="12.800" height="12.800" viewBox="-6.400 -6.400 12.800 12.800"><circle cx="0" cy="0" r="6.400" fill="#e9f0d6"/><circle cx="0" cy="-2" r="1.250" fill="#b7d966"/><path d="M-2.750 2.900c0-2.600 1.100-3.900 2.750-3.900s2.750 1.300 2.750 3.900z" fill="#b7d966"/></svg>
<svg class="a" style="left:1601.4px;top:525.8px" width="52" height="52" viewBox="0 0 52 52"><circle cx="26" cy="26" r="22.5" fill="none" stroke="#c3dc6c" stroke-width="2.5"/></svg>
<div class="t" style="left:1622.90px;top:543.70px;font-size:17px;color:#79838c;transform-origin:4.50px center;transform:scaleX(0.9200);">3</div>
<svg class="a" style="left:1647.8px;top:511.5px" width="11" height="11" viewBox="0 0 11 11"><path d="M0 0h8.500Q11 0 11 2.500V11z" fill="#aeb5bb"/></svg>
<div class="a" style="left:241px;top:192px;width:237px;height:314px;background:#fff"></div>
<div class="a" style="left:240px;top:506px;width:238px;height:494px;background:#e6e9ec"></div>
<div class="a" style="left:241px;top:190px;width:1px;height:810px;background:#f1f3f5"></div>
<div class="a" style="left:240px;top:0px;width:1px;height:506px;background:#bbc1c7"></div>
<div class="a" style="left:240px;top:506px;width:1px;height:494px;background:#a9b1b8"></div>
<div class="a" style="left:478px;top:192px;width:2px;height:314px;background:#e8ebee"></div>
<div class="a" style="left:478px;top:506px;width:2px;height:494px;background:#eceef0"></div>
<div class="a" style="left:241px;top:231px;width:237px;height:2px;background:#e8ebee"></div>
<div class="a" style="left:241px;top:265.4px;width:237px;height:1.6px;background:#e1e5e9"></div>
<div class="t m" style="left:252.20px;top:204.00px;font-size:15.5px;color:#0d1b2a;transform-origin:left center;transform:scaleX(0.9462);-webkit-text-stroke:0.64px;">Team</div>
<div class="t m" style="left:447.00px;top:207.70px;font-size:9px;color:#a0a8b0;transform-origin:right center;transform:scaleX(0.9158);-webkit-text-stroke:0.37px;">HRS</div>
<div class="t m" style="left:417.00px;top:204.00px;font-size:15.5px;color:#0d1b2a;transform-origin:right center;transform:scaleX(0.9112);-webkit-text-stroke:0.64px;">291</div>
<div class="a" style="left:408.8px;top:207.8px;width:6.2px;height:7.2px;background:#fdb913;border-radius:3px"></div>
<div class="t" style="left:252.40px;top:243.20px;font-size:11.2px;color:#a0a8b0;transform-origin:left center;transform:scaleX(0.9479);-webkit-text-stroke:0.20px;">5 Phases</div>
<div class="tag" style="left:252.300px;top:292px;width:40.200px;height:16px;background:#2bb596"></div>
<div class="t b" style="left:256.80px;top:295.50px;font-size:11.5px;color:#fff;transform-origin:left center;transform:scaleX(0.9483);">21001</div>
<div class="t" style="left:252.24px;top:313.70px;font-size:13.5px;color:#4d5a66;transform-origin:left center;transform:scaleX(0.9608);-webkit-text-stroke:0.24px;">180 Natoma St</div>
<div class="t m" style="left:252.05px;top:334.50px;font-size:14.5px;color:#0d1b2a;transform-origin:left center;transform:scaleX(0.9501);-webkit-text-stroke:0.59px;">DD</div>
<svg class="a" style="left:420.5px;top:294.2px" width="52" height="52" viewBox="0 0 52 52"><circle cx="26" cy="26" r="23" fill="#dcf2ed" stroke="#a3dccf" stroke-width="1.8"/><circle cx="26" cy="26" r="23" fill="none" stroke="#2bb596" stroke-width="2.5" stroke-dasharray="84.54 144.51" transform="rotate(-90 26 26)"/></svg>
<div class="t m" style="left:437.27px;top:312.80px;font-size:17px;color:#0d1b2a;transform-origin:9.23px center;transform:scaleX(0.9200);-webkit-text-stroke:0.70px;">41</div>
<div class="a" style="left:241px;top:364px;width:237px;height:1px;background:#dfe3e7"></div>
<div class="a" style="left:241px;top:408px;width:237px;height:1px;background:#dfe3e7"></div>
<div class="t" style="left:252.50px;top:373.40px;font-size:11.2px;color:#8f98a1;transform-origin:left center;transform:scaleX(0.9805);-webkit-text-stroke:0.20px;">Phase Totals</div>
<div class="a" style="left:252.5px;top:391.2px;width:213.4px;height:5.7px;background:#e1e4e7;border-radius:3px"></div>
<div class="stripe" style="left:280.0px;top:391.2px;width:48.0px;height:5.7px;border-radius:0px 3px 3px 0px"></div>
<div class="a" style="left:252.5px;top:391.2px;width:27.5px;height:5.7px;background:#2bb596;border-radius:3px"></div>
<div class="t" style="left:252.50px;top:425.70px;font-size:11.4px;color:#8f98a1;transform-origin:left center;transform:scaleX(0.9703);-webkit-text-stroke:0.21px;">Budgeted</div>
<div class="t" style="left:353.85px;top:425.70px;font-size:11.4px;color:#8f98a1;transform-origin:right center;transform:scaleX(0.9794);-webkit-text-stroke:0.21px;">$19,845</div>
<div class="t b" style="left:447.67px;top:427.70px;font-size:8.5px;color:#44515e;transform-origin:right center;transform:scaleX(0.8700);">HRS</div>
<div class="t b" style="left:412.04px;top:425.70px;font-size:11.4px;color:#44515e;transform-origin:right center;transform:scaleX(0.9323);">183.24</div>
<div class="t" style="left:252.50px;top:446.50px;font-size:11.4px;color:#8f98a1;transform-origin:left center;transform:scaleX(0.9498);-webkit-text-stroke:0.21px;">Consumed</div>
<div class="t" style="left:360.19px;top:446.50px;font-size:11.4px;color:#8f98a1;transform-origin:right center;transform:scaleX(0.9825);-webkit-text-stroke:0.21px;">$2,400</div>
<div class="t b" style="left:447.67px;top:448.50px;font-size:8.5px;color:#44515e;transform-origin:right center;transform:scaleX(0.8700);">HRS</div>
<div class="t b" style="left:434.24px;top:446.50px;font-size:11.4px;color:#44515e;transform-origin:right center;transform:scaleX(0.8849);">24</div>
<div class="t" style="left:252.50px;top:465.40px;font-size:11.4px;color:#8f98a1;transform-origin:left center;transform:scaleX(0.9752);-webkit-text-stroke:0.21px;">Time Left</div>
<div class="t m" style="left:379.73px;top:465.40px;font-size:11.4px;color:#3d4a56;transform-origin:right center;transform:scaleX(0.9444);-webkit-text-stroke:0.47px;">3 Weeks, 4 Days</div>
</div>
</body>
</html>
